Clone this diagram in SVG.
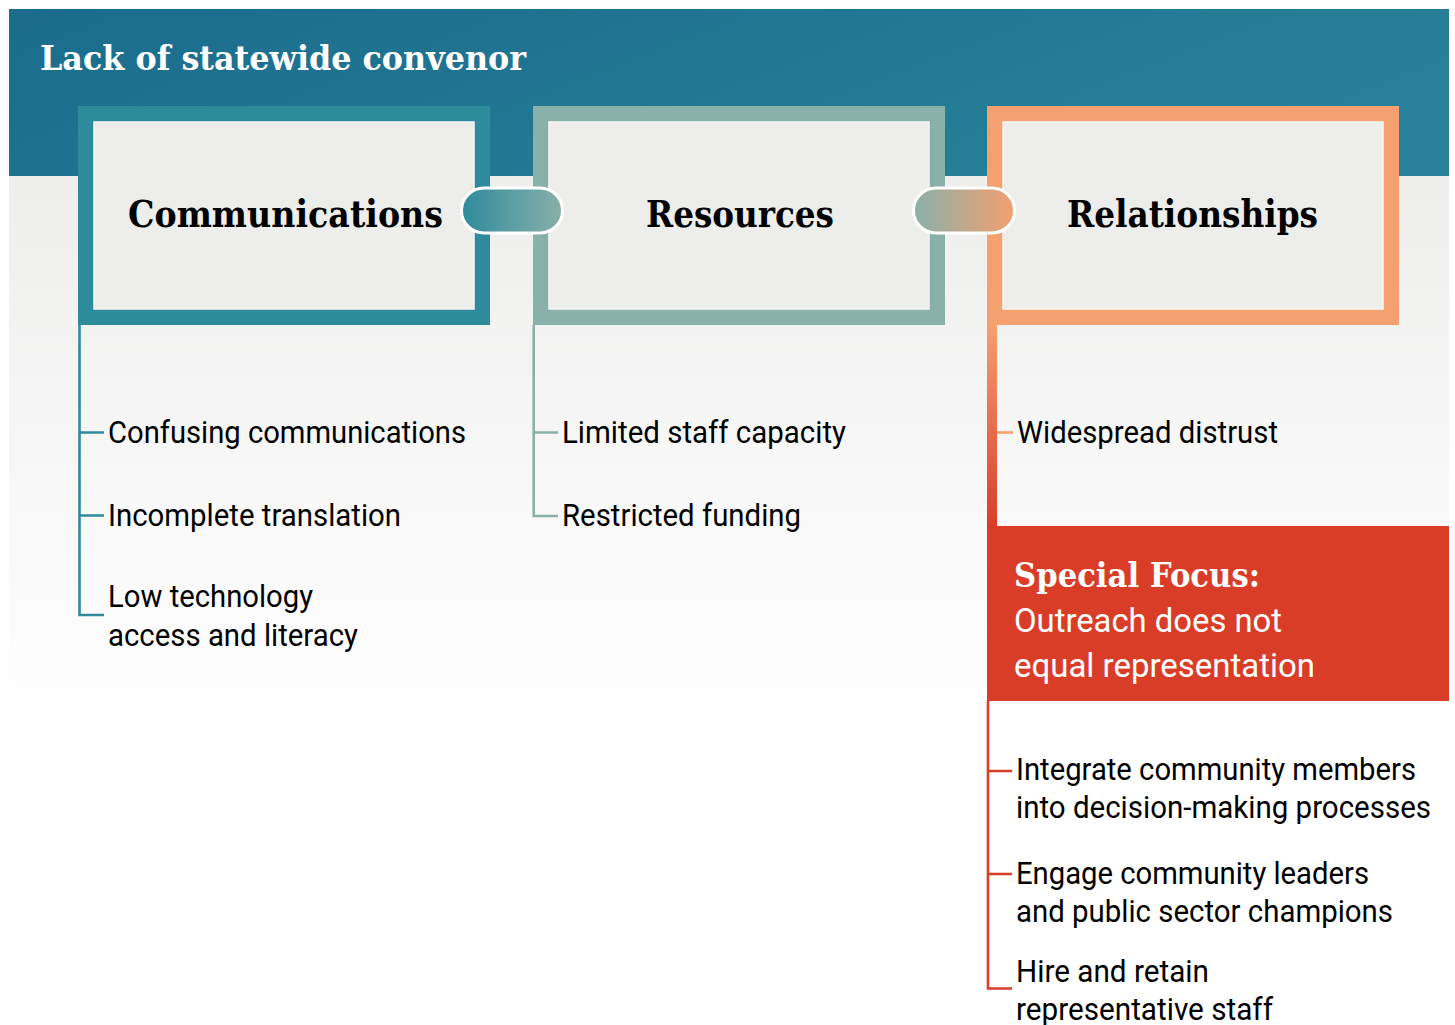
<svg xmlns="http://www.w3.org/2000/svg" width="1455" height="1025" viewBox="0 0 1455 1025">
<defs>
<linearGradient id="gHead" x1="0" y1="0" x2="1" y2="0.3">
<stop offset="0" stop-color="#1b6c8d"/><stop offset="1" stop-color="#278097"/>
</linearGradient>
<linearGradient id="gBg" x1="0" y1="0" x2="0" y2="1">
<stop offset="0" stop-color="#eeeeed"/><stop offset="1" stop-color="#fefefe"/>
</linearGradient>
<linearGradient id="gPill1" x1="0" y1="0" x2="1" y2="0">
<stop offset="0" stop-color="#2e8b9c"/><stop offset="1" stop-color="#8ab0aa"/>
</linearGradient>
<linearGradient id="gPill2" x1="0" y1="0" x2="1" y2="0">
<stop offset="0" stop-color="#8ab0aa"/><stop offset="1" stop-color="#f4a06f"/>
</linearGradient>
<linearGradient id="gBar" x1="0" y1="0" x2="0" y2="1">
<stop offset="0" stop-color="#f4a06f"/><stop offset="1" stop-color="#d93f28"/>
</linearGradient>
<style>
.inner{fill:#ededeb;stroke:#f6f6f5;stroke-width:1.5}
.ttl{font-family:"DejaVu Serif","Liberation Serif",serif;font-weight:bold;font-size:38px;fill:#000}
.item{font-family:Roboto,"Liberation Sans",sans-serif;font-size:31px;fill:#000}
.wht{font-family:Roboto,"Liberation Sans",sans-serif;font-size:33px;fill:#fff}
.ln{fill:none;stroke-width:2.6}
.pill{stroke:#fff;stroke-width:3}
</style>
</defs>
<rect x="0" y="0" width="1455" height="1025" fill="#ffffff"/>
<rect x="9" y="176" width="1440" height="514" fill="url(#gBg)"/>
<g id="header">
<rect x="9" y="9" width="1440" height="167" fill="url(#gHead)"/>
<text x="40" y="70" font-family="DejaVu Serif, Liberation Serif, serif" font-weight="bold" font-size="34" fill="#fff" textLength="486" lengthAdjust="spacingAndGlyphs">Lack of statewide convenor</text>
</g>
<g id="node-communications">
<rect x="78" y="106" width="412" height="219" fill="#2e8b9c"/>
<rect class="inner" x="94" y="122" width="380" height="187"/>
<text class="ttl" x="128" y="227" textLength="315" lengthAdjust="spacingAndGlyphs">Communications</text>
</g>
<g id="node-resources">
<rect x="533" y="106" width="412" height="219" fill="#8ab0aa"/>
<rect class="inner" x="549" y="122" width="380" height="187"/>
<text class="ttl" x="646" y="227" textLength="188" lengthAdjust="spacingAndGlyphs">Resources</text>
</g>
<g id="node-relationships">
<rect x="987" y="106" width="412" height="219" fill="#f4a06f"/>
<rect class="inner" x="1003" y="122" width="380" height="187"/>
<text class="ttl" x="1067" y="227" textLength="251" lengthAdjust="spacingAndGlyphs">Relationships</text>
</g>
<g id="connectors">
<rect class="pill" x="461.5" y="188" width="101" height="45" rx="22.5" fill="url(#gPill1)"/>
<rect class="pill" x="913.5" y="188" width="101" height="45" rx="22.5" fill="url(#gPill2)"/>
<path class="ln" stroke="#2e8b9c" d="M79.5 325V615H104M79.5 432.5H104M79.5 515.5H104"/>
<path class="ln" stroke="#8ab0aa" d="M533.7 325V516H558M533.7 432.5H558"/>
<rect x="987" y="325" width="10" height="201" fill="url(#gBar)"/>
<path class="ln" stroke="#f4a06f" d="M997 432.5H1013"/>
<path class="ln" stroke="#d93d27" d="M988 701V988.5H1012M988 771H1012M988 874H1012"/>
</g>
<g id="item-confusing"><text class="item" x="108" y="443" textLength="358" lengthAdjust="spacingAndGlyphs">Confusing communications</text></g>
<g id="item-incomplete"><text class="item" x="108" y="526" textLength="293" lengthAdjust="spacingAndGlyphs">Incomplete translation</text></g>
<g id="item-lowtech">
<text class="item" x="108" y="607" textLength="205" lengthAdjust="spacingAndGlyphs">Low technology</text>
<text class="item" x="108" y="646" textLength="250" lengthAdjust="spacingAndGlyphs">access and literacy</text>
</g>
<g id="item-staff"><text class="item" x="562" y="443" textLength="284" lengthAdjust="spacingAndGlyphs">Limited staff capacity</text></g>
<g id="item-funding"><text class="item" x="562" y="526" textLength="239" lengthAdjust="spacingAndGlyphs">Restricted funding</text></g>
<g id="item-distrust"><text class="item" x="1017" y="443" textLength="261" lengthAdjust="spacingAndGlyphs">Widespread distrust</text></g>
<g id="node-special-focus">
<rect x="987" y="526" width="462" height="175" fill="#d93d27"/>
<text x="1014" y="587" font-family="DejaVu Serif, Liberation Serif, serif" font-weight="bold" font-size="34" fill="#fff" textLength="246" lengthAdjust="spacingAndGlyphs">Special Focus:</text>
<text class="wht" x="1014" y="632" textLength="268" lengthAdjust="spacingAndGlyphs">Outreach does not</text>
<text class="wht" x="1014" y="677" textLength="301" lengthAdjust="spacingAndGlyphs">equal representation</text>
</g>
<g id="item-integrate">
<text class="item" x="1016" y="780" textLength="400" lengthAdjust="spacingAndGlyphs">Integrate community members</text>
<text class="item" x="1016" y="818" textLength="415" lengthAdjust="spacingAndGlyphs">into decision-making processes</text>
</g>
<g id="item-engage">
<text class="item" x="1016" y="884" textLength="353" lengthAdjust="spacingAndGlyphs">Engage community leaders</text>
<text class="item" x="1016" y="922" textLength="377" lengthAdjust="spacingAndGlyphs">and public sector champions</text>
</g>
<g id="item-hire">
<text class="item" x="1016" y="982" textLength="193" lengthAdjust="spacingAndGlyphs">Hire and retain</text>
<text class="item" x="1016" y="1020" textLength="257" lengthAdjust="spacingAndGlyphs">representative staff</text>
</g>
</svg>
